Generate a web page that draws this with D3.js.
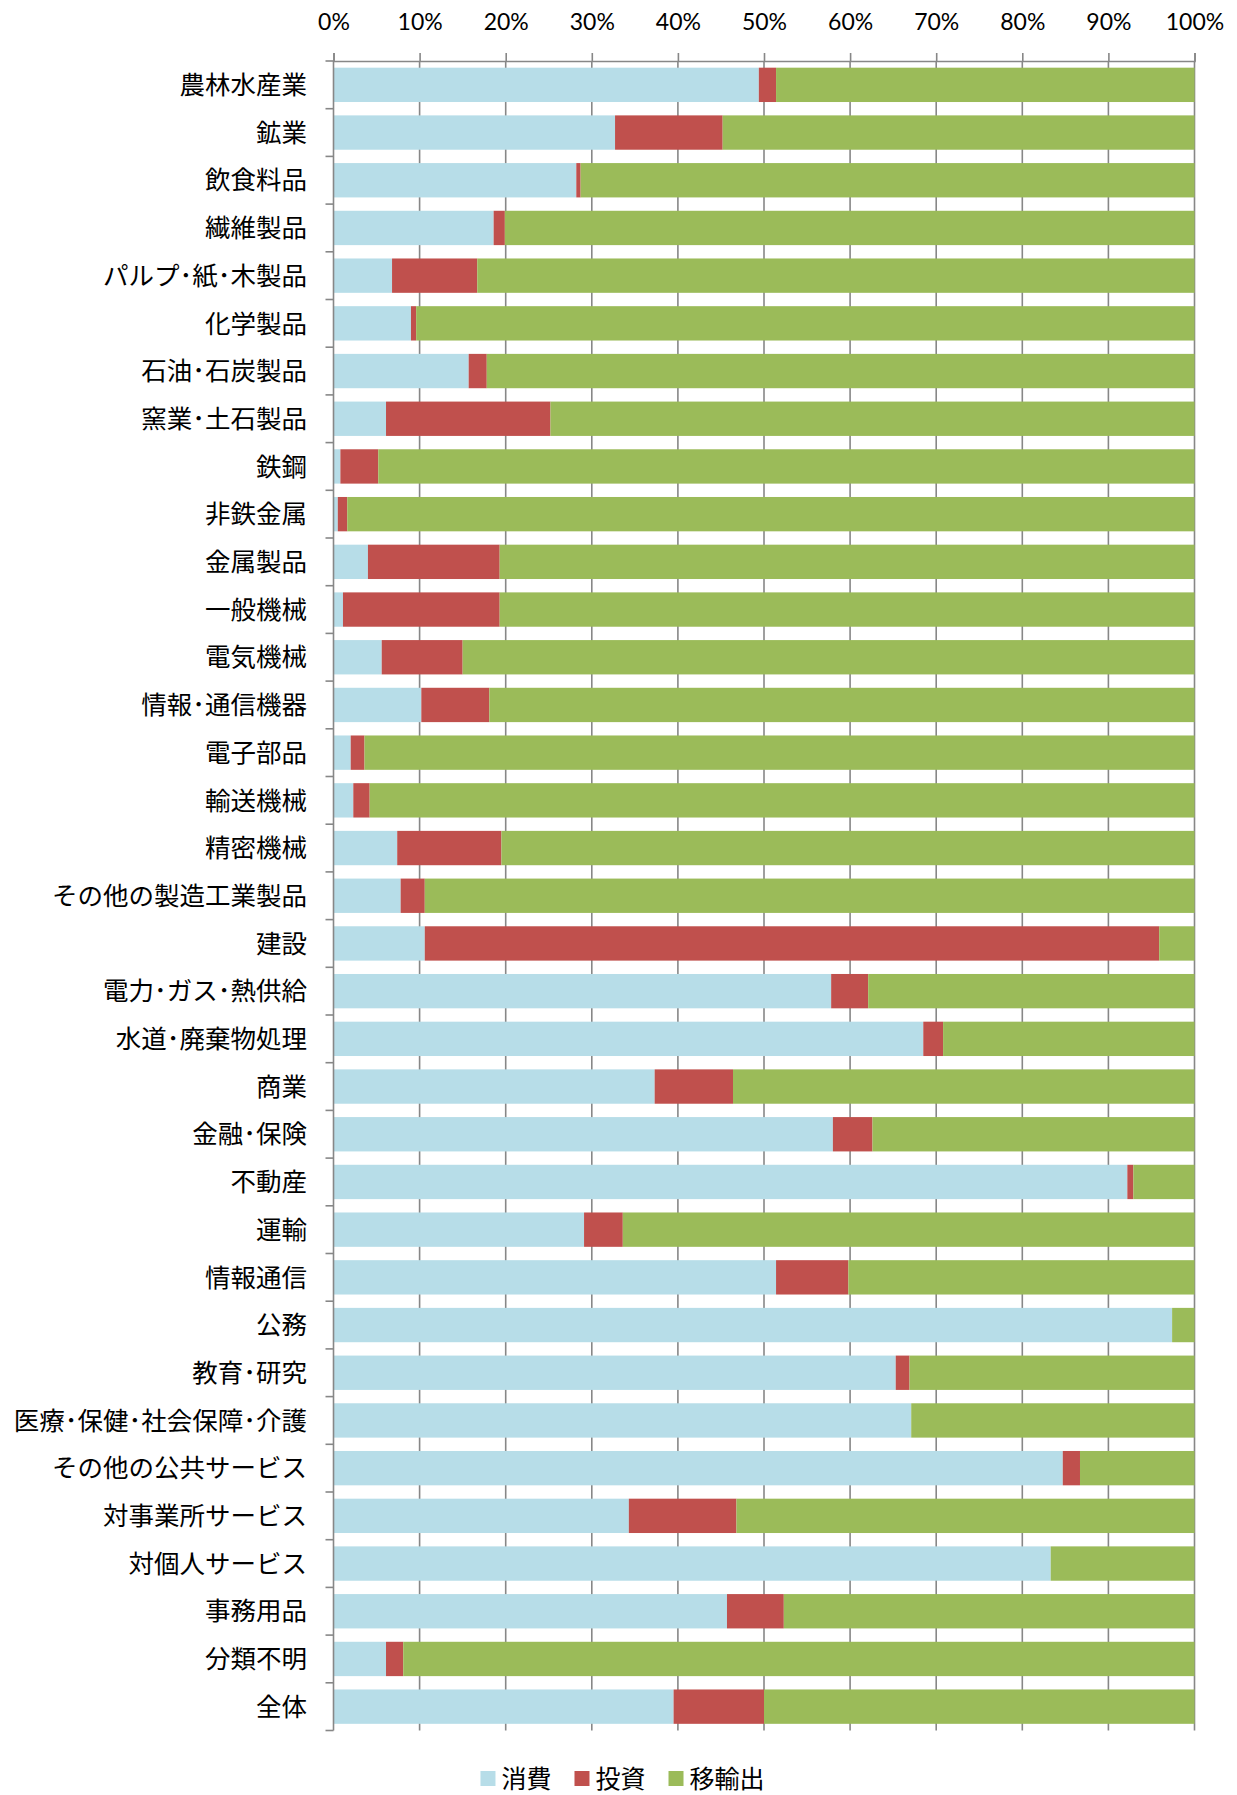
<!DOCTYPE html>
<html><head><meta charset="utf-8">
<script src="https://cdn.jsdelivr.net/npm/d3@7"></script>
<style>
html,body{margin:0;padding:0;background:#fff;}
svg{display:block;}
</style></head>
<body>
<svg id="chart" width="1237" height="1795"></svg>
<script>
const categories = ["農林水産業","鉱業","飲食料品","繊維製品","パルプ･紙･木製品","化学製品","石油･石炭製品","窯業･土石製品","鉄鋼","非鉄金属","金属製品","一般機械","電気機械","情報･通信機器","電子部品","輸送機械","精密機械","その他の製造工業製品","建設","電力･ガス･熱供給","水道･廃棄物処理","商業","金融･保険","不動産","運輸","情報通信","公務","教育･研究","医療･保健･社会保障･介護","その他の公共サービス","対事業所サービス","対個人サービス","事務用品","分類不明","全体"];
const consumption = [49.4,32.7,28.2,18.6,6.8,9.0,15.7,6.1,0.8,0.5,4.0,1.1,5.6,10.2,2.0,2.3,7.4,7.8,10.6,57.8,68.5,37.3,58.0,92.2,29.1,51.4,97.4,65.3,67.1,84.7,34.3,83.3,45.7,6.1,39.5];
const investment  = [2.0,12.5,0.5,1.3,9.9,0.6,2.1,19.1,4.4,1.1,15.3,18.2,9.4,7.9,1.6,1.9,12.1,2.8,85.3,4.3,2.3,9.1,4.6,0.7,4.5,8.4,0.0,1.6,0.0,2.0,12.5,0.0,6.6,2.0,10.5];
const exportsOut  = [48.6,54.8,71.3,80.1,83.3,90.4,82.2,74.8,94.8,98.4,80.7,80.7,85.0,81.9,96.4,95.8,80.5,89.4,4.1,37.9,29.2,53.6,37.4,7.1,66.4,40.2,2.6,33.1,32.9,13.3,53.2,16.7,47.7,91.9,50.0];
const seriesNames = ["消費","投資","移輸出"];
const seriesColors = ["#B7DDE8","#C0504D","#9BBB59"];
const tickValues = [0,10,20,30,40,50,60,70,80,90,100];

const svg = d3.select("#chart");
const pLeft = 333.5, pRight = 1194.5, pTop = 61, pBottom = 1730.5;
const x = d3.scaleLinear().domain([0,100]).range([pLeft,pRight]);
const y = d3.scaleBand().domain(categories).range([pTop,pBottom]).paddingInner(0.28).paddingOuter(0.14);
const gridColor = "#878787";

const rows = categories.map((c,i)=>({cat:c, "消費":consumption[i], "投資":investment[i], "移輸出":exportsOut[i]}));
const stack = d3.stack().keys(seriesNames)(rows);

// gridlines
svg.append("g").selectAll("line").data(tickValues.slice(1)).join("line")
  .attr("x1",d=>x(d)).attr("x2",d=>x(d)).attr("y1",pTop).attr("y2",pBottom)
  .attr("stroke",gridColor).attr("stroke-width",1.6);

// bars
svg.append("g").selectAll("g").data(stack).join("g")
  .attr("fill",(d,i)=>seriesColors[i])
  .selectAll("rect").data(d=>d).join("rect")
  .attr("x",d=>x(d[0])).attr("width",d=>Math.max(0,x(d[1])-x(d[0])))
  .attr("y",d=>y(d.data.cat)).attr("height",y.bandwidth());

// top axis
const xAxis = d3.axisTop(x).tickValues(tickValues).tickFormat(d=>d+"%").tickSize(8).tickPadding(23);
const gx = svg.append("g").attr("transform",`translate(0,${pTop})`).call(xAxis);
gx.select(".domain").attr("stroke",gridColor).attr("stroke-width",1.6);
gx.selectAll(".tick line").attr("stroke",gridColor).attr("stroke-width",1.6);
gx.selectAll(".tick text").attr("font-family","Lato, sans-serif").attr("font-size",23).attr("fill","#000");

// left axis line and boundary ticks
const step = y.step();
const bounds = d3.range(categories.length+1).map(i=>pTop+i*step);
svg.append("line").attr("x1",pLeft).attr("x2",pLeft).attr("y1",pTop).attr("y2",pBottom)
  .attr("stroke",gridColor).attr("stroke-width",1.6);
svg.append("g").selectAll("line").data(bounds).join("line")
  .attr("x1",pLeft-8).attr("x2",pLeft).attr("y1",d=>d).attr("y2",d=>d)
  .attr("stroke",gridColor).attr("stroke-width",1.6);

// category labels
svg.append("g").selectAll("text").data(categories).join("text")
  .attr("x",307).attr("y",d=>y(d)+y.bandwidth()/2)
  .attr("dy","0.36em").attr("text-anchor","end")
  .attr("font-family","'Noto Sans CJK JP', sans-serif").attr("font-size",25.5).attr("fill","#000")
  .text(d=>d);

// legend
const lg = svg.append("g");
let lx = 0;
const gap = 23;
seriesNames.forEach((n,i)=>{
  const g = lg.append("g");
  g.append("rect").attr("x",0).attr("y",-8).attr("width",15).attr("height",15).attr("fill",seriesColors[i]);
  const t = g.append("text").attr("x",21).attr("y",0).attr("dy","0.36em")
    .attr("font-family","'Noto Sans CJK JP', sans-serif").attr("font-size",25).attr("fill","#000").text(n);
  const w = 21 + t.node().getComputedTextLength();
  g.attr("transform",`translate(${lx},0)`);
  lx += w + gap;
});
const totalW = lx - gap;
lg.attr("transform",`translate(${1237/2 - totalW/2 + 4},1779)`);
</script>
</body></html>
